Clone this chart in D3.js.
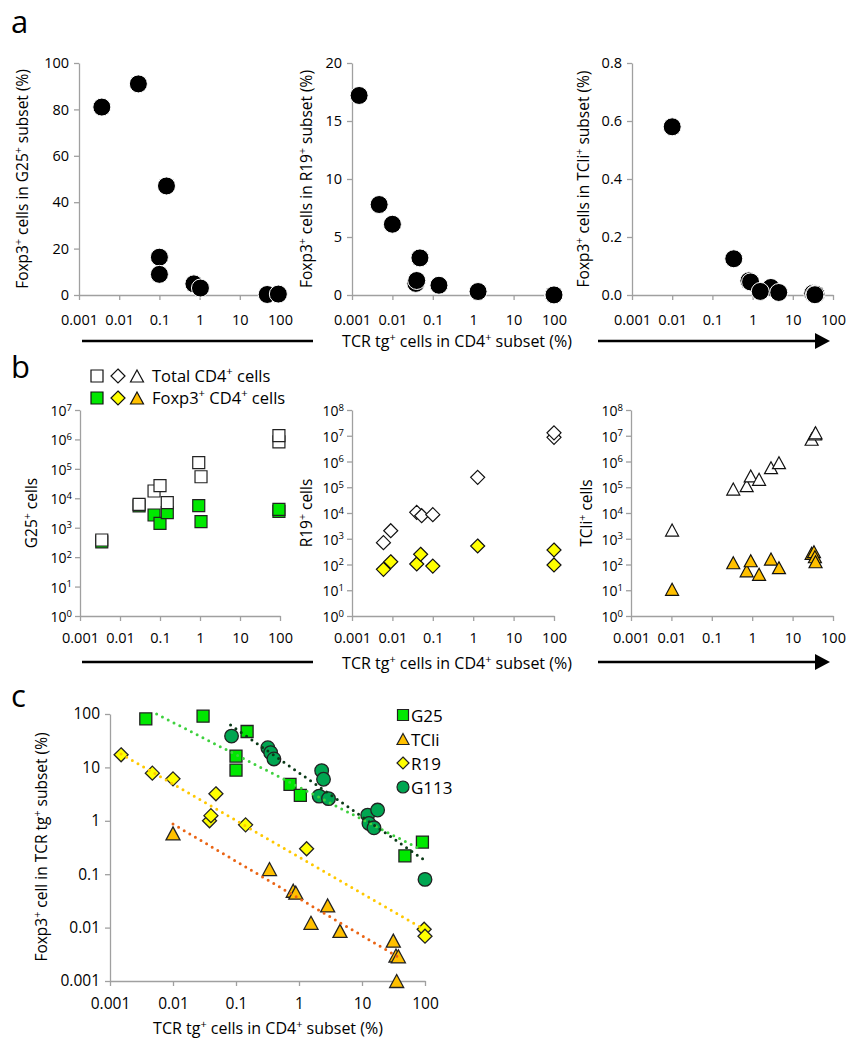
<!DOCTYPE html>
<html><head><meta charset="utf-8">
<script src="https://cdn.jsdelivr.net/npm/d3@7"></script>
<style>
body{margin:0;background:#fff}
text{font-family:"Open Sans",sans-serif;fill:#000}
</style>
</head><body>
<svg id="chart" width="864" height="1050"></svg>
<script>
// ---------------- DATA ----------------
// Panel a & c : Foxp3+ % in TCR tg+ subset vs TCR tg+ % in CD4+ subset
const g25X  = [0.0037, 0.030, 0.15, 0.10, 0.10, 0.72, 1.05, 48, 91];
const g25Y  = [81, 91, 47, 16.3, 8.9, 4.8, 3.0, 0.22, 0.40];
const tcliX = [0.01, 0.34, 0.81, 0.89, 2.85, 1.55, 4.47, 31.4, 34.6, 37.8, 35.5];
const tcliY = [0.58, 0.125, 0.049, 0.045, 0.026, 0.0123, 0.0087, 0.0057, 0.003, 0.0029, 0.001];
const r19X  = [0.0015, 0.0047, 0.01, 0.048, 0.038, 0.040, 0.142, 1.32, 97, 100];
const r19Y  = [17.2, 7.8, 6.1, 3.2, 1.0, 1.25, 0.84, 0.30, 0.0093, 0.0069];
const g113X = [0.085, 0.32, 0.355, 0.40, 2.29, 2.45, 2.09, 2.94, 12.3, 12.9, 15.5, 17.7, 100];
const g113Y = [38.6, 23.4, 18.9, 14.4, 8.7, 6.0, 2.9, 2.6, 1.28, 0.89, 0.74, 1.59, 0.08];
// dotted trend lines (start / end points)
const trendG25  = [[0.0055, 100], [91, 0.28]];
const trendG113 = [[0.082, 62], [100, 0.18]];
const trendR19  = [[0.0015, 17.8], [91, 0.0097]];
const trendTCli = [[0.01, 0.87], [37.8, 0.0028]];

// Panel b : absolute cell numbers
const bG25X      = [0.0035, 0.030, 0.071, 0.10, 0.152, 0.93, 1.06, 94, 94];
const bG25TotY   = [382, 6240, 17700, 26800, 7080, 162000, 54000, 830000, 1340000];
const bG25FoxY   = [330, 5500, 2700, 1410, 3240, 5600, 1600, 3600, 4200];
const bR19X      = [0.0060, 0.0091, 0.040, 0.053, 0.10, 1.29, 100, 100];
const bR19TotY   = [703, 2050, 10600, 7850, 8600, 243000, 8700000, 13000000];
const bR19FoxX   = [0.0060, 0.0091, 0.040, 0.050, 0.10, 1.29, 100, 100];
const bR19FoxY   = [65, 128, 105, 250, 87, 523, 365, 96];
const bTCliTotX  = [0.0104, 0.34, 0.73, 0.92, 1.48, 2.92, 4.6, 29.6, 35.7, 37];
const bTCliTotY  = [2180, 85000, 115000, 275000, 203000, 575000, 900000, 7300000, 11700000, 13000000];
const bTCliFoxX  = [0.0104, 0.34, 0.73, 0.92, 1.48, 2.92, 4.6, 29.6, 33.8, 35.7, 37];
const bTCliFoxY  = [10.9, 117, 57, 140, 41.5, 163, 75, 272, 315, 200, 128];

// ticks
const xTicks = [0.001, 0.01, 0.1, 1, 10, 100];
const xTickLabels = ["0.001", "0.01", "0.1", "1", "10", "100"];
const aYTicks1 = [0, 20, 40, 60, 80, 100];
const aYTicks2 = [0, 5, 10, 15, 20];
const aYTicks3 = [0, 0.2, 0.4, 0.6, 0.8];
const aYTickLabels3 = ["0.0", "0.2", "0.4", "0.6", "0.8"];
const bYTicks1 = [1, 10, 100, 1e3, 1e4, 1e5, 1e6, 1e7];
const bYTicks2 = [1, 10, 100, 1e3, 1e4, 1e5, 1e6, 1e7, 1e8];
const cYTicks = [0.001, 0.01, 0.1, 1, 10, 100];
const cYTickLabels = ["0.001", "0.01", "0.1", "1", "10", "100"];
const legendC = ["G25", "TCli", "R19", "G113"];

// ---------------- STYLE ----------------
const AXC = "#a0a0a0";
const COL = {g25: "#00e800", tcli: "#ffc000", r19: "#ffff00", g113: "#00a651",
  lg25: "#3fd13f", lg113: "#0b3a18", lr19: "#ffc800", ltcli: "#ea6414"};
const svg = d3.select("#chart");

function rich(t, str, fs) {
  // "^{...}" marks superscript
  const parts = str.split(/(\^\{[^}]*\})/).filter(s => s.length);
  let up = false;
  parts.forEach(p => {
    if (p.startsWith("^{")) {
      t.append("tspan").style("font-size", (fs * 0.68) + "px").attr("dy", -fs * 0.38).text(p.slice(2, -1));
      up = true;
    } else {
      const ts = t.append("tspan").style("font-size", fs + "px").text(p);
      if (up) { ts.attr("dy", fs * 0.38); up = false; }
    }
  });
  return t;
}
function label(x, y, str, fs, opts = {}) {
  const t = svg.append("text").attr("x", x).attr("y", y)
    .attr("text-anchor", opts.anchor || "middle").style("font-size", fs + "px");
  if (opts.rotate) t.attr("transform", `rotate(-90,${x},${y})`);
  return rich(t, str, fs);
}
function styleAxis(g, fs) {
  g.attr("font-size", fs).style("font-size", fs + "px");
  g.select(".domain").attr("stroke", AXC).attr("stroke-width", 1.3);
  g.selectAll(".tick line").attr("stroke", AXC).attr("stroke-width", 1.3);
  g.selectAll(".tick text").style("font-size", fs + "px").attr("fill", "#000");
}
function xAxisLog(x, y, fs, pad) {
  const g = svg.append("g").attr("transform", `translate(0,${y})`)
    .call(d3.axisBottom(x).tickValues(xTicks).tickFormat((d, i) => xTickLabels[i]).tickSize(5).tickSizeOuter(0).tickPadding(pad));
  styleAxis(g, fs);
  return g;
}
function sqPath(s) { return `M${-s/2},${-s/2}H${s/2}V${s/2}H${-s/2}Z`; }
function diaPath(s) { return `M0,${-s/2}L${s/2},0L0,${s/2}L${-s/2},0Z`; }
function triPath(w, h) { return `M0,${-h/2}L${w/2},${h/2}L${-w/2},${h/2}Z`; }

function marks(xs, ys, x, y, path, fill, stroke, sw) {
  svg.append("g").selectAll("path").data(xs.map((d, i) => [d, ys[i]])).join("path")
    .attr("transform", d => `translate(${x(d[0])},${y(d[1])})`)
    .attr("d", path).attr("fill", fill).attr("stroke", stroke).attr("stroke-width", sw);
}

// ---------------- PANEL a ----------------
const aX = [[79, 280], [352, 554], [632, 833]];
const aTop = 63, aBot = 295;
const aSets = [
  {xs: g25X, ys: g25Y, max: 100, ticks: aYTicks1, labs: aYTicks1.map(String), lab: "Foxp3^{+} cells in G25^{+} subset (%)", lx: 28},
  {xs: r19X, ys: r19Y, max: 20, ticks: aYTicks2, labs: aYTicks2.map(String), lab: "Foxp3^{+} cells in R19^{+} subset (%)", lx: 312},
  {xs: tcliX, ys: tcliY, max: 0.8, ticks: aYTicks3, labs: aYTickLabels3, lab: "Foxp3^{+} cells in TCli^{+} subset (%)", lx: 589}
];
aSets.forEach((s, k) => {
  const x = d3.scaleLog().domain([0.001, 100]).range(aX[k]);
  const y = d3.scaleLinear().domain([0, s.max]).range([aBot, aTop]);
  const gy = svg.append("g").attr("transform", `translate(${aX[k][0]},0)`)
    .call(d3.axisLeft(y).tickValues(s.ticks).tickFormat((d, i) => s.labs[i]).tickSize(5).tickSizeOuter(0).tickPadding(5));
  styleAxis(gy, 14.5);
  xAxisLog(x, aBot, 14.5, 15);
  svg.append("g").selectAll("circle").data(s.xs.map((d, i) => [d, s.ys[i]])).join("circle")
    .attr("cx", d => x(d[0])).attr("cy", d => y(d[1])).attr("r", 9)
    .attr("fill", "#000").attr("stroke", "#fff").attr("stroke-width", 1);
  label(s.lx, (aTop + aBot) / 2, s.lab, 15.5, {rotate: true});
});

// ---------------- PANEL b ----------------
const bTop = 410, bBot = 616;
const bXr = [[80, 280], [352, 554], [631, 833]];
const bSets = [
  {ticks: bYTicks1, max: 1e7, lab: "G25^{+} cells", lx: 37},
  {ticks: bYTicks2, max: 1e8, lab: "R19^{+} cells", lx: 312},
  {ticks: bYTicks2, max: 1e8, lab: "TCli^{+} cells", lx: 592}
];
const bScales = bSets.map((s, k) => {
  const x = d3.scaleLog().domain([0.001, 100]).range(bXr[k]);
  const y = d3.scaleLog().domain([1, s.max]).range([bBot, bTop]);
  const gy = svg.append("g").attr("transform", `translate(${bXr[k][0]},0)`)
    .call(d3.axisLeft(y).tickValues(s.ticks).tickFormat("").tickSize(5).tickSizeOuter(0));
  styleAxis(gy, 14);
  gy.selectAll(".tick").each(function(d) {
    const t = d3.select(this).append("text").attr("x", -8).attr("y", 5.5)
      .attr("text-anchor", "end").attr("fill", "#000");
    rich(t, "10^{" + Math.round(Math.log10(d)) + "}", 14);
  });
  xAxisLog(x, bBot, 14.5, 12);
  label(s.lx, (bTop + bBot) / 2, s.lab, 15.5, {rotate: true});
  return {x, y};
});
// G25
marks(bG25X, bG25FoxY, bScales[0].x, bScales[0].y, sqPath(12), COL.g25, "#222", 1.2);
marks(bG25X, bG25TotY, bScales[0].x, bScales[0].y, sqPath(12), "#fff", "#222", 1.2);
// R19
marks(bR19FoxX, bR19FoxY, bScales[1].x, bScales[1].y, diaPath(14), COL.r19, "#111", 1.2);
marks(bR19X, bR19TotY, bScales[1].x, bScales[1].y, diaPath(14), "#fff", "#111", 1.2);
// TCli
marks(bTCliFoxX, bTCliFoxY, bScales[2].x, bScales[2].y, triPath(13, 12), COL.tcli, "#111", 1.2);
marks(bTCliTotX, bTCliTotY, bScales[2].x, bScales[2].y, triPath(13, 12), "#fff", "#111", 1.2);

// legend b
[[97, sqPath(12)], [118, diaPath(14)], [137, triPath(13, 12)]].forEach((m, i) => {
  const fills = [COL.g25, COL.r19, COL.tcli];
  svg.append("path").attr("transform", `translate(${m[0]},376)`).attr("d", m[1]).attr("fill", "#fff").attr("stroke", "#111").attr("stroke-width", 1.2);
  svg.append("path").attr("transform", `translate(${m[0]},398)`).attr("d", m[1]).attr("fill", fills[i]).attr("stroke", "#111").attr("stroke-width", 1.2);
});
label(152, 381.5, "Total CD4^{+} cells", 16.5, {anchor: "start"});
label(152, 403.5, "Foxp3^{+} CD4^{+} cells", 16.5, {anchor: "start"});

// shared x labels & arrows for a and b
[[341, 347], [662, 669]].forEach(([ly, ty]) => {
  svg.append("line").attr("x1", 82).attr("x2", 313).attr("y1", ly).attr("y2", ly).attr("stroke", "#000").attr("stroke-width", 2.5);
  svg.append("line").attr("x1", 598).attr("x2", 818).attr("y1", ly).attr("y2", ly).attr("stroke", "#000").attr("stroke-width", 2.5);
  svg.append("path").attr("d", `M815,${ly - 8}L830,${ly}L815,${ly + 8}Z`).attr("fill", "#000");
  label(457, ty, "TCR tg^{+} cells in CD4^{+} subset (%)", 16);
});

// ---------------- PANEL c ----------------
const cx = d3.scaleLog().domain([0.001, 100]).range([110, 425]);
const cy = d3.scaleLog().domain([0.001, 100]).range([981, 714]);
const gcy = svg.append("g").attr("transform", "translate(110,0)")
  .call(d3.axisLeft(cy).tickValues(cYTicks).tickFormat((d, i) => cYTickLabels[i]).tickSize(5).tickSizeOuter(0).tickPadding(5));
styleAxis(gcy, 15.5);
xAxisLog(cx, 981, 15.5, 12);
label(47, 847, "Foxp3^{+} cell in TCR tg^{+} subset (%)", 15.5, {rotate: true});
label(268, 1034, "TCR tg^{+} cells in CD4^{+} subset (%)", 16);

marks(g25X, g25Y, cx, cy, sqPath(12), COL.g25, "#222", 1.3);
marks(tcliX, tcliY, cx, cy, triPath(14, 13), COL.tcli, "#222", 1.3);
marks(r19X, r19Y, cx, cy, diaPath(14), COL.r19, "#222", 1.3);
svg.append("g").selectAll("circle").data(g113X.map((d, i) => [d, g113Y[i]])).join("circle")
  .attr("cx", d => cx(d[0])).attr("cy", d => cy(d[1])).attr("r", 6.8)
  .attr("fill", COL.g113).attr("stroke", "#222").attr("stroke-width", 1.3);

const line = d3.line().x(d => cx(d[0])).y(d => cy(d[1]));
[[trendG25, COL.lg25], [trendG113, COL.lg113], [trendR19, COL.lr19], [trendTCli, COL.ltcli]].forEach(([pts, c]) => {
  svg.append("path").attr("d", line(pts)).attr("fill", "none").attr("stroke", c)
    .attr("stroke-width", 3).attr("stroke-linecap", "round").attr("stroke-dasharray", "0 6.5");
});

// legend c
const legPaths = [sqPath(11), triPath(12, 11), diaPath(12)];
const legFill = [COL.g25, COL.tcli, COL.r19, COL.g113];
legendC.forEach((name, i) => {
  const yy = 715 + i * 24;
  if (i < 3) svg.append("path").attr("transform", `translate(403,${yy})`).attr("d", legPaths[i]).attr("fill", legFill[i]).attr("stroke", "#222").attr("stroke-width", 1.2);
  else svg.append("circle").attr("cx", 403).attr("cy", yy).attr("r", 6).attr("fill", legFill[i]).attr("stroke", "#222").attr("stroke-width", 1.2);
  svg.append("text").attr("x", 411).attr("y", yy + 6.5).style("font-size", "17px").text(name);
});

// panel letters
svg.append("text").attr("x", 11).attr("y", 33).style("font-size", "31px").text("a");
svg.append("text").attr("x", 11).attr("y", 378).style("font-size", "31px").text("b");
svg.append("text").attr("x", 11).attr("y", 707).style("font-size", "31px").text("c");
</script>
</body></html>
